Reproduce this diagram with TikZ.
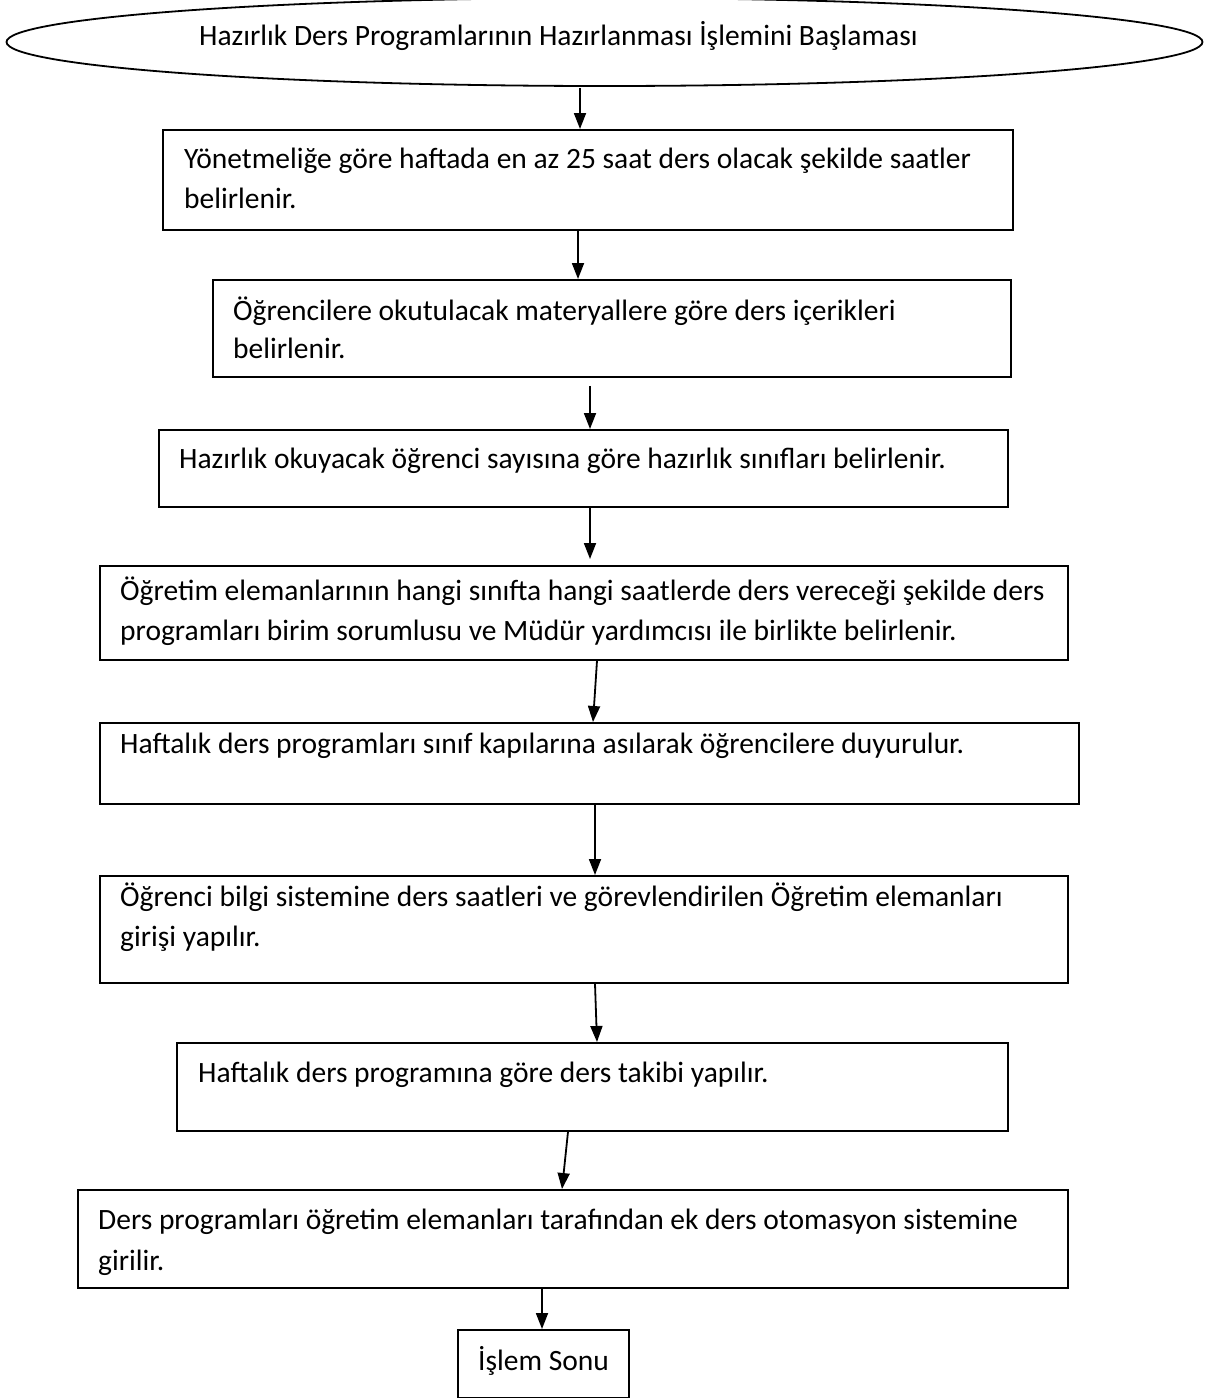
\documentclass[tikz,border=0pt]{standalone}
\usepackage{fontspec}
\setmainfont{Carlito}
\usetikzlibrary{arrows.meta,shapes.geometric}

% process box given by its corner coordinates (left, top, right, bottom)
\newcommand{\procbox}[5]{%
  \node[procstep, minimum width=\dimexpr#4pt-#2pt\relax,
        minimum height=\dimexpr#5pt-#3pt\relax] (#1) at (#2,#3) {};}

\begin{document}
\begin{tikzpicture}[x=1pt, y=-1pt,
  procstep/.style={draw, line width=1.8pt, rectangle, inner sep=0pt, anchor=north west},
  startshape/.style={draw, line width=1.8pt, ellipse, inner sep=0pt},
  txt/.style={anchor=base west, inner sep=0pt, font=\fontsize{29.5}{36}\selectfont},
  arr/.style={line width=1.8pt, -{Triangle[length=16pt, width=12pt]}}
]
\useasboundingbox (0,0) rectangle (1209,1398);

% start ellipse
\node[startshape, minimum width=1196pt, minimum height=88pt] (start) at (604.5,42) {};
\node[txt] (startt) at (199,45) {Hazırlık Ders Programlarının Hazırlanması İşlemini Başlaması};

% process steps
\procbox{b1}{162}{129}{1012}{229}
\node[txt] (b1t1) at (184,168) {Yönetmeliğe göre haftada en az 25 saat ders olacak şekilde saatler};
\node[txt] (b1t2) at (184,208) {belirlenir.};

\procbox{b2}{212}{279}{1010}{376}
\node[txt] (b2t1) at (233,320) {Öğrencilere okutulacak materyallere göre ders içerikleri};
\node[txt] (b2t2) at (233,358) {belirlenir.};

\procbox{b3}{158}{429}{1007}{506}
\node[txt] (b3t1) at (179,468) {Hazırlık okuyacak öğrenci sayısına göre hazırlık sınıfları belirlenir.};

\procbox{b4}{99}{565}{1067}{659}
\node[txt] (b4t1) at (120,600) {Öğretim elemanlarının hangi sınıfta hangi saatlerde ders vereceği şekilde ders};
% the second line is cut off by the inner margin of the box
\begin{scope}
  \clip (99,600) rectangle (1067,647);
  \node[txt] (b4t2) at (120,640) {programları birim sorumlusu ve Müdür yardımcısı ile birlikte belirlenir.};
\end{scope}

\procbox{b5}{99}{722}{1078}{803}
\node[txt] (b5t1) at (120,753) {Haftalık ders programları sınıf kapılarına asılarak öğrencilere duyurulur.};

\procbox{b6}{99}{875}{1067}{982}
\node[txt] (b6t1) at (120,906) {Öğrenci bilgi sistemine ders saatleri ve görevlendirilen Öğretim elemanları};
\node[txt] (b6t2) at (120,946) {girişi yapılır.};

\procbox{b7}{176}{1042}{1007}{1130}
\node[txt] (b7t1) at (198,1082) {Haftalık ders programına göre ders takibi yapılır.};

\procbox{b8}{77}{1189}{1067}{1287}
\node[txt] (b8t1) at (98,1229) {Ders programları öğretim elemanları tarafından ek ders otomasyon sistemine};
\node[txt] (b8t2) at (98,1270) {girilir.};

\procbox{end}{457}{1329}{628}{1397}
\node[txt] (endt) at (478,1370) {İşlem Sonu};

% x positions of the connectors
\coordinate (x1) at (580,0);
\coordinate (x2) at (578,0);
\coordinate (x3) at (590,0);
\coordinate (x4) at (590,0);
\coordinate (x5a) at (597,0);
\coordinate (x5b) at (593,0);
\coordinate (x6) at (595,0);
\coordinate (x7a) at (595,0);
\coordinate (x7b) at (597,0);
\coordinate (x8a) at (568,0);
\coordinate (x8b) at (562,0);
\coordinate (x9) at (542,0);

% connectors
\draw[arr] ([yshift=-1pt]start.south -| x1) -- (b1.north -| x1);
\draw[arr] (b1.south -| x2) -- (b2.north -| x2);
\draw[arr] ([yshift=-8pt]b2.south -| x3) -- (b3.north -| x3);
\draw[arr, shorten >=6pt] (b3.south -| x4) -- (b4.north -| x4);
\draw[arr] (b4.south -| x5a) -- (b5.north -| x5b);
\draw[arr] (b5.south -| x6) -- (b6.north -| x6);
\draw[arr] (b6.south -| x7a) -- (b7.north -| x7b);
\draw[arr] (b7.south -| x8a) -- (b8.north -| x8b);
\draw[arr] (b8.south -| x9) -- (end.north -| x9);
\end{tikzpicture}
\end{document}
